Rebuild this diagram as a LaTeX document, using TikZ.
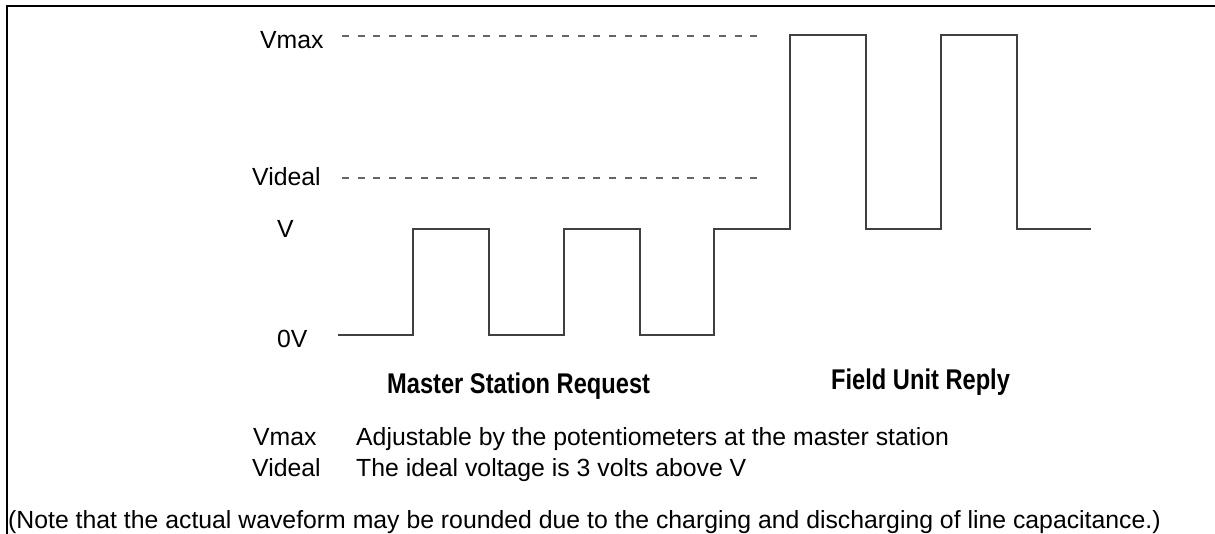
\documentclass[tikz,border=0pt]{standalone}
\usepackage{fontspec}
\setmainfont{Liberation Sans}
\begin{document}
\begin{tikzpicture}[x=1pt,y=-1pt,
  lbl/.style={inner sep=0pt,font=\fontsize{24.8}{30}\selectfont},
  ttl/.style={inner sep=0pt,font=\fontsize{28.5}{32}\selectfont\bfseries},
  wave/.style={draw=black!75,line width=1.4pt,line join=miter},
  guide/.style={draw=black!60,line width=1.3pt,dash pattern=on 7pt off 8.7pt},
  frameline/.style={draw=black,line width=2pt}]
\useasboundingbox (0,0) rectangle (1215,534);
% frame (top and left edges)
\coordinate (fA) at (7,534);
\coordinate (fB) at (7,6);
\coordinate (fC) at (1215,6);
\draw[frameline] (fA) -- (fB) -- (fC);
% level labels
\node[lbl,anchor=west] (lvmax) at (260,40) {Vmax};
\node[lbl,anchor=west] (lvideal) at (252,177) {Videal};
\node[lbl,anchor=west] (lv) at (277,229) {V};
\node[lbl,anchor=west] (lzero) at (277,339) {0V};
% guide lines
\coordinate (g1a) at (342,36);
\coordinate (g1b) at (765,36);
\coordinate (g2a) at (342,178);
\coordinate (g2b) at (765,178);
\draw[guide] (g1a) -- (g1b);
\draw[guide] (g2a) -- (g2b);
% waveform
\draw[wave] (338,335) -- (413,335) -- (413,229) -- (489,229) -- (489,335)
  -- (564,335) -- (564,229) -- (640,229) -- (640,335) -- (714,335)
  -- (714,229) -- (790,229) -- (790,35) -- (866,35) -- (866,229)
  -- (941,229) -- (941,35) -- (1017,35) -- (1017,229) -- (1091,229);
% section titles
\node[ttl,anchor=base west] (msr) at (387,393) {\scalebox{0.83}[1]{Master Station Request}};
\node[ttl,anchor=base west] (fur) at (831,389) {\scalebox{0.83}[1]{Field Unit Reply}};
% legend
\node[lbl,anchor=base west] (k1) at (253,445) {Vmax};
\node[lbl,anchor=base west] (t1) at (356,445) {Adjustable by the potentiometers at the master station};
\node[lbl,anchor=base west] (k2) at (252,476) {Videal};
\node[lbl,anchor=base west] (t2) at (356,476) {The ideal voltage is 3 volts above V};
\node[lbl,anchor=base west] (note) at (8,528) {(Note that the actual waveform may be rounded due to the charging and discharging of line capacitance.)};
\end{tikzpicture}
\end{document}
